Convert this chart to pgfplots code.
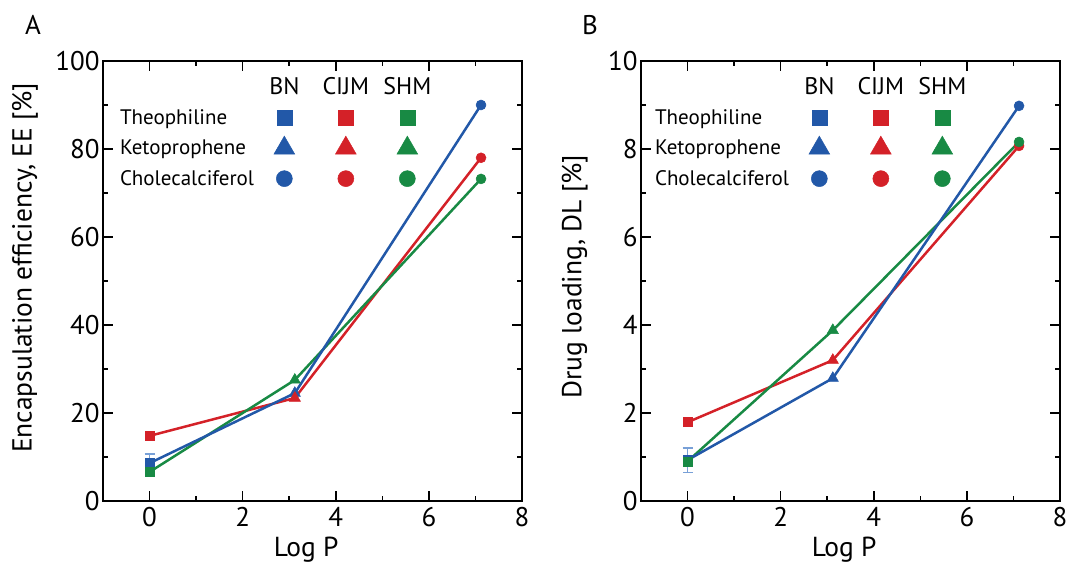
\documentclass[border=0pt]{standalone}
\usepackage{fontspec}
\setmainfont{PT Sans}
\usepackage{pgfplots}
\pgfplotsset{compat=1.18}
\definecolor{cBN}{RGB}{34,88,168}
\definecolor{cBNl}{RGB}{120,160,215}
\definecolor{cCI}{RGB}{212,33,40}
\definecolor{cSH}{RGB}{24,138,68}
\newcommand{\fs}[1]{\fontsize{#1}{#1}\selectfont}
\pgfplotsset{
  legmark/.style={only marks, line width=0.5pt,
    legend image code/.code={\draw[##1] plot coordinates {(0pt,0pt)}; \path (-30pt,-15pt) (30pt,15pt);}},
  legnone/.style={legend image code/.code={}},
  hdr/.style={legend image code/.code={\node[font=\fs{24}, inner sep=0pt, anchor=center] at (0pt,0pt) {#1}; \path (-30pt,-15pt) (30pt,15pt);}},
  panel/.style={
    width=419pt, height=440pt, scale only axis,
    xmin=-1, xmax=8, xtick={0,2,4,6,8}, minor x tick num=1,
    tick align=inside, major tick length=10pt, minor tick length=5pt,
    axis line style={line width=2.5pt}, every tick/.style={line width=1.5pt, black},
    /pgf/number format/assume math mode=true,
    tick label style={font=\fs{27}},
    xticklabel style={yshift=-3pt},
    label style={font=\fs{27.5}},
    xlabel={Log P},
    xlabel style={at={(axis description cs:0.485,-0.111)}, anchor=center},
    legend columns=4, legend cell align=left,
    legend style={at={(axis description cs:0,1)}, anchor=north west, yshift=-11pt,
      draw=none, fill=none, inner sep=0pt, outer sep=0pt, column sep=0pt, row sep=0pt,
      font=\fs{21}, nodes={inner sep=0pt, outer sep=0pt}},
  },
  ln/.style={line width=2.5pt, no marks, forget plot},
  mk/.style={only marks, line width=0.5pt, forget plot},
}
\newcommand{\mylegend}{%
  \addlegendimage{legnone}\addlegendentry{}
  \addlegendimage{hdr=BN}\addlegendentry{}
  \addlegendimage{hdr=CIJM}\addlegendentry{}
  \addlegendimage{hdr=SHM}\addlegendentry{}
  \addlegendimage{legnone}\addlegendentry{Theophiline}
  \addlegendimage{legmark, cBN, mark=square*, mark size=7.5pt}\addlegendentry{}
  \addlegendimage{legmark, cCI, mark=square*, mark size=7.5pt}\addlegendentry{}
  \addlegendimage{legmark, cSH, mark=square*, mark size=7.5pt}\addlegendentry{}
  \addlegendimage{legnone}\addlegendentry{Ketoprophene}
  \addlegendimage{legmark, cBN, mark=triangle*, mark size=12pt}\addlegendentry{}
  \addlegendimage{legmark, cCI, mark=triangle*, mark size=12pt}\addlegendentry{}
  \addlegendimage{legmark, cSH, mark=triangle*, mark size=12pt}\addlegendentry{}
  \addlegendimage{legnone}\addlegendentry{Cholecalciferol}
  \addlegendimage{legmark, cBN, mark=*, mark size=8pt}\addlegendentry{}
  \addlegendimage{legmark, cCI, mark=*, mark size=8pt}\addlegendentry{}
  \addlegendimage{legmark, cSH, mark=*, mark size=8pt}\addlegendentry{}
}
\begin{document}
\begin{tikzpicture}
\useasboundingbox (0,0) rectangle (1070pt,564pt);
\node[font=\fs{27}] at (33pt,539pt) {A};
\node[font=\fs{27}] at (590pt,539pt) {B};
% ---------------- Panel A
\begin{axis}[panel, at={(103pt,63pt)}, anchor=south west,
  ymin=0, ymax=100, ytick={0,20,...,100}, minor y tick num=1,
  ylabel={Encapsulation efficiency, EE [\%]},
  ylabel style={at={(axis description cs:-0.186,0.53)}, anchor=center},
  legend style={xshift=17pt}]
\mylegend
\addplot[ln, cCI] coordinates {(0,14.8) (3.12,23.4) (7.12,78)};
\addplot[ln, cSH] coordinates {(0,6.6) (3.12,27.5) (7.12,73.2)};
\addplot[ln, cBN] coordinates {(0,8.6) (3.12,24.5) (7.12,90)};
\addplot[mk, cBNl, mark=none, error bars/.cd, y dir=both, y explicit,
  error bar style={line width=1.5pt, cBNl}, error mark options={rotate=90, mark size=5pt, line width=1.5pt, cBNl}]
  coordinates {(0,8.6) +- (0,2.1)};
\addplot[mk, cBN, mark=square*, mark size=4.5pt] coordinates {(0,8.6)};
\addplot[mk, cBN, mark=triangle*, mark size=6.5pt] coordinates {(3.12,24.5)};
\addplot[mk, cBN, mark=*, mark size=5pt] coordinates {(7.12,90)};
\addplot[mk, cCI, mark=square*, mark size=4.5pt] coordinates {(0,14.8)};
\addplot[mk, cCI, mark=triangle*, mark size=6.5pt] coordinates {(3.12,23.4)};
\addplot[mk, cCI, mark=*, mark size=5pt] coordinates {(7.12,78)};
\addplot[mk, cSH, mark=square*, mark size=4.5pt] coordinates {(0,6.6)};
\addplot[mk, cSH, mark=triangle*, mark size=6.5pt] coordinates {(3.12,27.5)};
\addplot[mk, cSH, mark=*, mark size=5pt] coordinates {(7.12,73.2)};
\end{axis}
% ---------------- Panel B
\begin{axis}[panel, at={(641pt,63pt)}, anchor=south west,
  ymin=0, ymax=10, ytick={0,2,...,10}, minor y tick num=1,
  ylabel={Drug loading, DL [\%]},
  ylabel style={at={(axis description cs:-0.158,0.51)}, anchor=center},
  legend style={xshift=14pt}]
\mylegend
\addplot[ln, cCI] coordinates {(0,1.79) (3.12,3.2) (7.12,8.07)};
\addplot[ln, cSH] coordinates {(0,0.9) (3.12,3.88) (7.12,8.16)};
\addplot[ln, cBN] coordinates {(0,0.93) (3.12,2.79) (7.12,8.98)};
\addplot[mk, cBNl, mark=none, error bars/.cd, y dir=both, y explicit,
  error bar style={line width=1.5pt, cBNl}, error mark options={rotate=90, mark size=5pt, line width=1.5pt, cBNl}]
  coordinates {(0,0.93) +- (0,0.28)};
\addplot[mk, cBN, mark=square*, mark size=4.5pt] coordinates {(0,0.93)};
\addplot[mk, cBN, mark=triangle*, mark size=6.5pt] coordinates {(3.12,2.79)};
\addplot[mk, cBN, mark=*, mark size=5pt] coordinates {(7.12,8.98)};
\addplot[mk, cCI, mark=square*, mark size=4.5pt] coordinates {(0,1.79)};
\addplot[mk, cCI, mark=triangle*, mark size=6.5pt] coordinates {(3.12,3.2)};
\addplot[mk, cCI, mark=*, mark size=5pt] coordinates {(7.12,8.07)};
\addplot[mk, cSH, mark=square*, mark size=4.5pt] coordinates {(0,0.9)};
\addplot[mk, cSH, mark=triangle*, mark size=6.5pt] coordinates {(3.12,3.88)};
\addplot[mk, cSH, mark=*, mark size=5pt] coordinates {(7.12,8.16)};
\end{axis}
\end{tikzpicture}
\end{document}
